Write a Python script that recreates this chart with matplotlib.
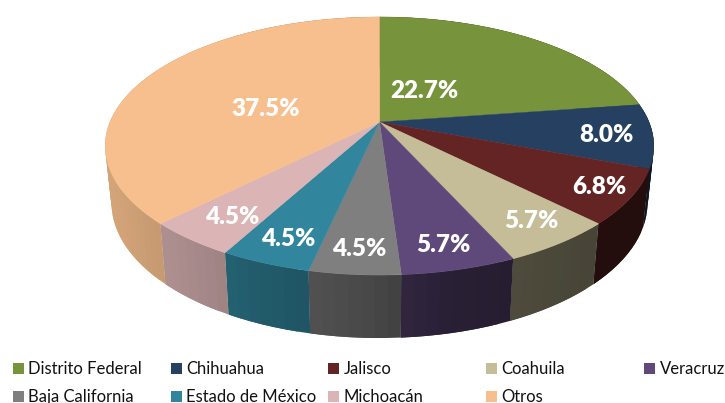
import numpy as np
import matplotlib
matplotlib.use("Agg")
import matplotlib.pyplot as plt
from matplotlib.colors import to_rgb
from matplotlib.patches import Rectangle

# datos
estados = ["Distrito Federal", "Chihuahua", "Jalisco", "Coahuila", "Veracruz",
           "Baja California", "Estado de México", "Michoacán", "Otros"]
porcentajes = [22.7, 8.0, 6.8, 5.7, 5.7, 4.5, 4.5, 4.5, 37.5]
colores = ["#77933C", "#254061", "#632423", "#C4BD97", "#5F497A",
           "#7F7F7F", "#31859C", "#DBB4B5", "#F7BF8D"]

# posiciones de las etiquetas y de la leyenda, en pixeles
pos_etiquetas = [(424, 91.5), (606, 135.5), (599, 186.5), (531, 220.5), (443, 244.5),
                 (359, 249.5), (288, 239.5), (232, 217.5), (266, 109.5)]
col_leyenda = [13, 171, 328, 486, 644]
fila_leyenda = [368, 396]

# parametros de la perspectiva
CX, CY = 379.5, 122.0
A, B, K = 269.5, 124.6, 0.186


def proyectar(theta, r=1.0):
    """theta en radianes, horario desde arriba; devuelve pixeles del disco superior"""
    u = r * np.sin(theta)
    v = r * np.cos(theta)
    d = 1 + K * v
    return CX + A * u / d, CY - B * v / d


def base(x, y):
    # aro inferior del pastel a partir del aro superior
    return CX + 0.977 * (x - CX), 177.6 + 1.048 * (y - CY)


fig = plt.figure(figsize=(7.25, 4.03), dpi=100)
ax = fig.add_axes([0, 0, 1, 1])
ax.set_xlim(0, 725)
ax.set_ylim(403, 0)
ax.axis("off")

fracciones = np.array(porcentajes) / sum(porcentajes)
limites = np.concatenate([[0], np.cumsum(fracciones)]) * 2 * np.pi

# paredes laterales, con sombreado segun x; cada tramo pisa al siguiente para evitar rayas
for i, color in enumerate(colores):
    ang = np.linspace(limites[i], limites[i + 1], max(3, int(fracciones[i] * 180)))
    xs, ys = proyectar(ang)
    xb, yb = base(xs, ys)
    for j in range(len(ang) - 1):
        fin = min(j + 2, len(ang) - 1)
        xm = (xs[j] + xs[j + 1]) / 2
        sombra = np.interp(xm, [110, 230, 360, 450, 600], [0.86, 0.72, 0.58, 0.43, 0.36])
        c = tuple(np.array(to_rgb(color)) * sombra)
        tramo = np.arange(j, fin + 1)
        ax.fill(np.r_[xs[tramo], xb[tramo][::-1]], np.r_[ys[tramo], yb[tramo][::-1]],
                facecolor=c, edgecolor="none", zorder=1)

# cara superior
for i, color in enumerate(colores):
    ang = np.linspace(limites[i], limites[i + 1], 120)
    xs, ys = proyectar(ang)
    ax.fill(np.r_[CX, xs], np.r_[CY, ys], facecolor=color, edgecolor=color,
            linewidth=0.3, zorder=2)

for valor, (x, y) in zip(porcentajes, pos_etiquetas):
    ax.text(x, y, f"{valor:.1f}%", color="white", fontsize=17.5, fontweight=800,
            family="Lato", ha="center", va="center", zorder=3)

# leyenda
for i, (nombre, color) in enumerate(zip(estados, colores)):
    fila, col = divmod(i, 5)
    x0, y0 = col_leyenda[col], fila_leyenda[fila]
    ax.add_patch(Rectangle((x0, y0 - 5), 11, 11, facecolor=color, edgecolor="none", zorder=3))
    ax.text(x0 + 15.5, y0 + 1, nombre, color="#111111", fontsize=12, family="Lato",
            ha="left", va="center", zorder=3)

fig.savefig("out.png", dpi=100, facecolor="white")
